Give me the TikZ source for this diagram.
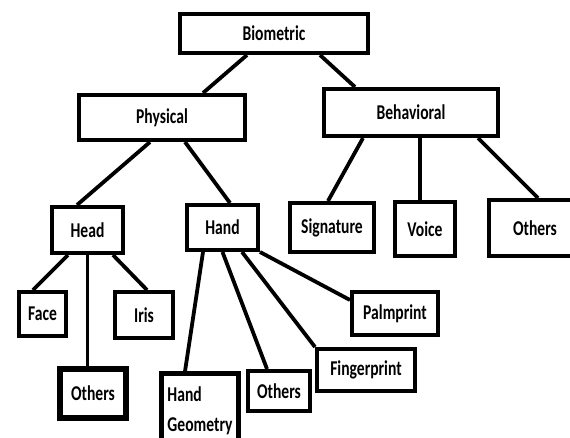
\documentclass[tikz,border=0pt]{standalone}
\usepackage{fontspec}
\setmainfont{Carlito}
\usepackage{graphicx}
\newcommand{\Tx}[1]{\scalebox{1}[1.35]{#1}}
\begin{document}
\begin{tikzpicture}[x=1pt,y=-1pt,
  box/.style={draw, line width=3.8pt, rectangle, inner sep=0pt,
    font=\fontsize{15.6}{18}\selectfont\bfseries},
  bx/.style n args={2}{minimum width=#1pt-3.8pt, minimum height=#2pt-3.8pt},
  conn/.style={line width=3.8pt}]
\clip (0,0) rectangle (570,437);
\fill[white] (0,0) rectangle (570,437);

\node[box, bx={192}{43}] (bio) at (274,33.5) {\Tx{Biometric}};
\node[box, bx={170}{49}] (phys) at (162,117.5) {\Tx{Physical}};
\node[box, bx={178}{51}] (behav) at (411,112.5) {\Tx{Behavioral}};
\node[box, bx={75}{50}] (head) at (87.5,230) {\Tx{Head}};
\node[box, bx={75}{49}] (hand) at (222.5,227.5) {\Tx{Hand}};
\node[box, bx={88}{53}] (sig) at (332,227.5) {\Tx{Signature}};
\node[box, bx={64}{58}] (voice) at (425,229) {\Tx{Voice}};
\node[box, bx={96}{60}] (othB) at (535,228) {\Tx{Others}};
\node[box, bx={51}{48}] (face) at (42.5,314) {\Tx{Face}};
\node[box, bx={62}{50}] (iris) at (144,315) {\Tx{Iris}};
\node[box, bx={90}{47}] (palm) at (395,313.5) {\Tx{Palmprint}};
\node[box, bx={102}{46}] (finger) at (366,370) {\Tx{Fingerprint}};
\node[box, line width=5.5pt, bx={70}{53}] (othH) at (93,393.5) {\raisebox{-2pt}{\Tx{Others}}};
\node[box, line width=5pt, bx={80}{80}] (handgeo) at (200,412)
  {\raisebox{-3pt}{\begin{tabular}{@{}l@{}}\Tx{Hand}\\[11pt]\Tx{Geometry}\end{tabular}}};
\node[box, bx={66}{44}] (othHand) at (279,391) {\raisebox{-6pt}{\Tx{Others}}};

\draw[conn] ([xshift=-27pt]bio.south) -- ([xshift=41pt]phys.north);
\draw[conn] ([xshift=46pt]bio.south) -- ([xshift=-56pt]behav.north);
\draw[conn] ([xshift=-12pt]phys.south) -- ([xshift=-10.5pt]head.north);
\draw[conn] ([xshift=23pt]phys.south) -- ([xshift=7.5pt]hand.north);
\draw[conn] ([xshift=-48pt]behav.south) -- ([xshift=-4pt]sig.north);
\draw[conn] ([xshift=9pt]behav.south) -- ([xshift=-5pt]voice.north);
\draw[conn] ([xshift=67pt]behav.south) -- ([xshift=3pt]othB.north);
\draw[conn] ([xshift=-19.5pt]head.south) -- ([xshift=-9.5pt]face.north);
\draw[conn] (head.south) -- (head.south |- othH.north);
\draw[conn] ([xshift=25.5pt]head.south) -- ([xshift=3pt]iris.north);
\draw[conn] ([xshift=-19.5pt]hand.south) -- ([xshift=-15pt]handgeo.north);
\draw[conn] (hand.south) -- ([xshift=-12pt]othHand.north);
\draw[conn] ([xshift=19.5pt]hand.south) -- (finger.north west);
\draw[conn] (hand.south east) -- ([yshift=13.5pt]palm.west);
\end{tikzpicture}
\end{document}
